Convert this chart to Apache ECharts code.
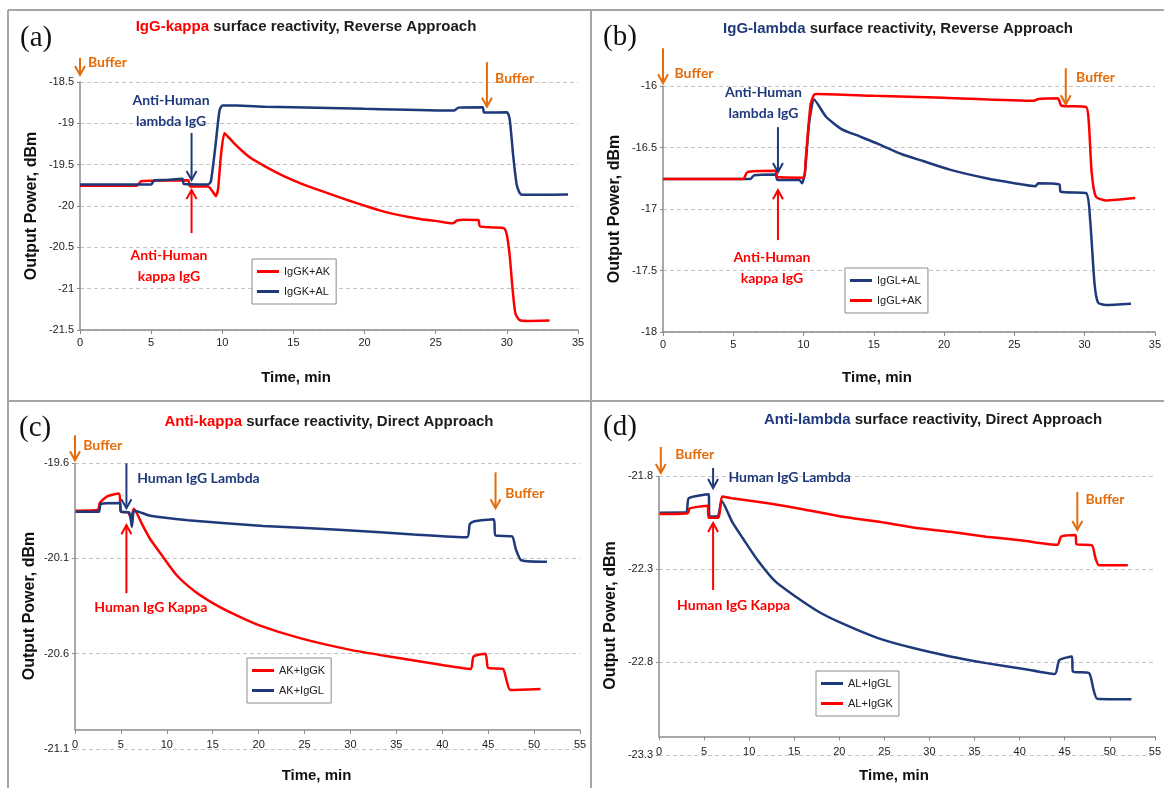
<!DOCTYPE html>
<html>
<head>
<meta charset="utf-8">
<title>Surface reactivity</title>
<script src="https://cdn.jsdelivr.net/npm/echarts@6.0.0/dist/echarts.min.js"></script>
<style>
html, body { margin: 0; padding: 0; background: #fff; }
#chart { width: 1164px; height: 788px; }
</style>
</head>
<body>
<div id="chart"></div>
<script>
// time (min), output power (dBm)
const aKappaAK = [[0,-19.755],[4.0,-19.755],[4.3,-19.70],[5,-19.695],[7.6,-19.69],[7.75,-19.765],[9.0,-19.765],[9.3,-19.82],[9.55,-19.88],[9.7,-19.80],[9.9,-19.40],[10.15,-19.12],[10.5,-19.18],[11.0,-19.27],[11.5,-19.35],[12.0,-19.42],[13,-19.52],[14,-19.61],[15,-19.69],[16,-19.76],[17,-19.82],[18,-19.88],[19,-19.94],[20,-19.995],[21,-20.05],[22,-20.095],[23,-20.13],[24,-20.16],[25,-20.18],[26.2,-20.21],[26.5,-20.175],[27,-20.165],[28,-20.17],[28.1,-20.245],[29,-20.26],[29.8,-20.27],[30.0,-20.35],[30.2,-20.6],[30.4,-21.0],[30.6,-21.3],[30.9,-21.38],[31.5,-21.39],[33,-21.385]];
const aKappaAL = [[0,-19.74],[5.0,-19.74],[5.2,-19.69],[6,-19.685],[7.2,-19.67],[7.3,-19.735],[9.0,-19.74],[9.2,-19.70],[9.5,-19.3],[9.8,-18.85],[10.0,-18.785],[11,-18.785],[13,-18.80],[15,-18.805],[20,-18.825],[26.3,-18.845],[26.6,-18.81],[28.3,-18.805],[28.4,-18.87],[30.0,-18.865],[30.2,-18.95],[30.45,-19.4],[30.7,-19.75],[31.0,-19.86],[32,-19.865],[34.3,-19.86]];

const bLambdaAL = [[0,-16.757],[6.2,-16.757],[6.5,-16.725],[8.0,-16.72],[8.15,-16.765],[9.7,-16.765],[9.9,-16.79],[10.1,-16.7],[10.4,-16.3],[10.75,-16.11],[11.6,-16.25],[12.7,-16.35],[14,-16.41],[15.3,-16.47],[17,-16.555],[18.5,-16.61],[20.4,-16.68],[23,-16.75],[25,-16.79],[26.5,-16.815],[26.7,-16.79],[28.2,-16.80],[28.3,-16.86],[30.1,-16.87],[30.4,-17.1],[30.7,-17.6],[30.95,-17.76],[31.5,-17.78],[33.3,-17.77]];
const bLambdaAK = [[0,-16.757],[5.7,-16.757],[6.0,-16.70],[8.0,-16.69],[8.15,-16.74],[10.0,-16.745],[10.15,-16.6],[10.5,-16.15],[10.75,-16.07],[11,-16.065],[15,-16.08],[20,-16.095],[26.4,-16.12],[26.7,-16.105],[28.1,-16.10],[28.35,-16.16],[30.1,-16.17],[30.3,-16.3],[30.5,-16.7],[30.8,-16.9],[31.5,-16.93],[33.6,-16.91]];

const cAKIgGK = [[0,-19.85],[2.5,-19.845],[2.7,-19.81],[3.5,-19.775],[4.8,-19.76],[5.0,-19.855],[5.8,-19.86],[6.1,-19.89],[6.4,-19.84],[7.4,-19.93],[8.2,-20.0],[9.4,-20.08],[11.1,-20.19],[13.1,-20.275],[15.2,-20.34],[17.2,-20.39],[20,-20.45],[24.6,-20.52],[30,-20.58],[34.9,-20.62],[40,-20.66],[43.1,-20.68],[43.4,-20.615],[44.7,-20.60],[45.0,-20.675],[46.6,-20.68],[47.0,-20.74],[47.4,-20.79],[50.7,-20.785]];
const cAKIgGL = [[0,-19.856],[2.6,-19.856],[2.8,-19.815],[4.9,-19.81],[5.0,-19.855],[5.9,-19.86],[6.2,-19.935],[6.35,-19.86],[6.5,-19.85],[8.2,-19.877],[12.3,-19.90],[20.5,-19.93],[28.7,-19.95],[36.9,-19.975],[42.7,-19.99],[43.0,-19.92],[43.5,-19.905],[45.6,-19.895],[45.8,-19.98],[47.6,-19.985],[48.0,-20.05],[48.6,-20.11],[51.4,-20.118]];

const dALIgGL = [[0,-21.997],[3,-21.995],[3.3,-21.92],[5.5,-21.898],[5.6,-22.018],[6.5,-22.018],[6.95,-21.934],[8.1,-22.045],[9.3,-22.135],[10.9,-22.25],[12.9,-22.367],[14.9,-22.44],[17.7,-22.53],[20.2,-22.59],[24.2,-22.67],[28.2,-22.725],[32.3,-22.77],[36.3,-22.806],[40.3,-22.836],[43.9,-22.865],[44.4,-22.79],[45.8,-22.77],[45.9,-22.85],[47.7,-22.86],[48.2,-22.95],[48.6,-22.997],[52.4,-23.0]];
const dALIgGK = [[0,-22.004],[3.2,-22.0],[3.4,-21.974],[5.4,-21.96],[5.5,-22.024],[6.6,-22.024],[7.0,-21.91],[8.1,-21.92],[12.1,-21.947],[16.1,-21.98],[20.2,-22.018],[24.2,-22.045],[28.2,-22.077],[32.3,-22.1],[36.3,-22.126],[40.3,-22.147],[44.2,-22.17],[44.6,-22.126],[46.2,-22.117],[46.3,-22.167],[48,-22.172],[48.4,-22.24],[48.8,-22.28],[52,-22.28]];

// annotations in data units: [panel, time, fromValue, toValue]
const bufferArrows = [[0,0,-18.21,-18.415],[0,28.6,-18.26,-18.80],[1,0,-15.694,-15.978],[1,28.66,-15.856,-16.149],[2,0,-19.455,-19.586],[2,45.8,-19.649,-19.837],[3,0.2,-21.644,-21.784],[3,46.4,-21.886,-22.09]];
const bufferLabels = [[0,0.56,-18.26],[0,29.17,-18.46],[1,0.82,-15.897],[1,29.39,-15.93],[2,0.89,-19.507],[2,46.87,-19.759],[3,1.8,-21.687],[3,47.3,-21.924]];
const lambdaArrows = [[0,7.84,-19.117,-19.685],[1,8.18,-16.335,-16.70],[2,5.6,-19.602,-19.837],[3,6.0,-21.757,-21.865]];
const kappaArrows = [[0,7.84,-20.327,-19.806],[1,8.18,-17.253,-16.847],[2,5.6,-20.283,-19.926],[3,6.0,-22.413,-22.053]];
const lambdaLabels = [[0,6.4,-18.85,'Anti-Human\nlambda IgG','center'],[1,7.15,-16.14,'Anti-Human\nlambda IgG','center'],[2,6.77,-19.679,'Human IgG Lambda','left'],[3,7.7,-21.809,'Human IgG Lambda','left']];
const kappaLabels = [[0,6.25,-20.72,'Anti-Human\nkappa IgG','center'],[1,7.75,-17.476,'Anti-Human\nkappa IgG','center'],[2,8.26,-20.356,'Human IgG Kappa','center'],[3,8.28,-22.497,'Human IgG Kappa','center']];

const RED = "#ff0000";
const NAVY = "#1f3a7a";
const ORANGE = "#e46c0a";
const AXIS = "#8c8c8c";

const panels = [
    {
        grid: {left: 80, top: 82, width: 498, height: 248},
        ymin: -21.5, ymax: -18.5, xmax: 35, cross: false,
        title: "{r|IgG-kappa} surface reactivity, Reverse Approach", titlePos: [306, 27],
        tag: "(a)", tagPos: [20, 38],
        legendPos: [252, 259], xNameGap: 40, xNameShift: 33, yNameGap: 40,
        series: [
            {name: "IgGK+AK", data: aKappaAK, color: RED},
            {name: "IgGK+AL", data: aKappaAL, color: NAVY}
        ]
    },
    {
        grid: {left: 663, top: 86, width: 499, height: 246},
        ymin: -18, ymax: -16, xmax: 35, cross: false,
        title: "{b|IgG-lambda} surface reactivity, Reverse Approach", titlePos: [898, 29],
        tag: "(b)", tagPos: [603, 37],
        legendPos: [845, 268], xNameGap: 38, xNameShift: 32, yNameGap: 40,
        series: [
            {name: "IgGL+AL", data: bLambdaAL, color: NAVY},
            {name: "IgGL+AK", data: bLambdaAK, color: RED}
        ]
    },
    {
        grid: {left: 75, top: 463, width: 505, height: 286},
        ymin: -21.1, ymax: -19.6, xmax: 55, cross: true,
        title: "{r|Anti-kappa} surface reactivity, Direct Approach", titlePos: [329, 422],
        tag: "(c)", tagPos: [19, 428],
        legendPos: [247, 658], xNameGap: 38, xNameShift: 11, yNameGap: 37,
        series: [
            {name: "AK+IgGK", data: cAKIgGK, color: RED},
            {name: "AK+IgGL", data: cAKIgGL, color: NAVY}
        ]
    },
    {
        grid: {left: 659, top: 476, width: 505, height: 279},
        ymin: -23.3, ymax: -21.8, xmax: 55, cross: true,
        title: "{b|Anti-lambda} surface reactivity, Direct Approach", titlePos: [933, 420],
        tag: "(d)", tagPos: [603, 427],
        legendPos: [816, 671], xNameGap: 32, xNameShift: 13, yNameGap: 40,
        series: [
            {name: "AL+IgGL", data: dALIgGL, color: NAVY},
            {name: "AL+IgGK", data: dALIgGK, color: RED}
        ]
    }
];

const chart = echarts.init(document.getElementById("chart"));

function buildOption() {
    const grids = [];
    const xAxes = [];
    const yAxes = [];
    const legends = [];
    const series = [];

    panels.forEach((p, i) => {
        grids.push(Object.assign({containLabel: false}, p.grid));

        // Excel-style: horizontal axis crosses 0.1 above the minimum in (c) and (d)
        const offset = p.cross ? -p.grid.height * 0.1 / (p.ymax - p.ymin) : 0;

        xAxes.push({
            type: "value", gridIndex: i, min: 0, max: p.xmax, interval: 5, offset: offset,
            name: "Time, min", nameLocation: "middle", nameGap: p.xNameGap,
            nameTextStyle: {fontWeight: "bold", fontSize: 15, color: "#111", fontFamily: "Arial", padding: [0, p.xNameShift * 2, 0, 0]},
            axisLine: {onZero: false, lineStyle: {color: AXIS, width: 1.5}},
            axisTick: {show: true, length: 4, lineStyle: {color: AXIS}},
            axisLabel: {color: "#222", fontSize: 11, fontFamily: "Arial", margin: p.cross ? 10 : 7},
            splitLine: {show: false}
        });

        yAxes.push({
            type: "value", gridIndex: i, min: p.ymin, max: p.ymax, interval: 0.5,
            name: "Output Power, dBm", nameLocation: "middle", nameGap: p.yNameGap,
            nameTextStyle: {fontWeight: "bold", fontSize: 16, color: "#111", fontFamily: "Arial"},
            axisLine: {show: !p.cross, onZero: false, lineStyle: {color: AXIS, width: 1.5}},
            axisTick: {show: true, length: 3, lineStyle: {color: AXIS}},
            axisLabel: {color: "#222", fontSize: 11, fontFamily: "Arial", margin: 6},
            splitLine: {show: true, lineStyle: {color: "#c4c4c4", type: [4, 3], width: 1}}
        });

        legends.push({
            data: p.series.map(s => s.name),
            orient: "vertical",
            left: p.legendPos[0], top: p.legendPos[1],
            icon: "rect", itemWidth: 22, itemHeight: 3, itemGap: 9,
            padding: [7, 6, 7, 5],
            borderColor: AXIS, borderWidth: 1, backgroundColor: "#fff",
            selectedMode: false,
            textStyle: {fontSize: 11, color: "#222", fontFamily: "Arial"}
        });

        p.series.forEach((s, k) => {
            const item = {
                type: "line", name: s.name, xAxisIndex: i, yAxisIndex: i,
                data: s.data, showSymbol: false, smooth: 0.2,
                color: s.color,
                lineStyle: {color: s.color, width: 2.5},
                animation: false
            };
            if (p.cross && k === 0) {
                item.markLine = {
                    silent: true, symbol: "none", animation: false,
                    label: {show: false},
                    lineStyle: {color: AXIS, width: 1.5, type: "solid"},
                    emphasis: {disabled: true},
                    data: [[{coord: [0, p.ymin + 0.1]}, {coord: [0, p.ymax]}]]
                };
            }
            series.push(item);
        });
    });

    return {
        backgroundColor: "#fff",
        animation: false,
        grid: grids,
        xAxis: xAxes,
        yAxis: yAxes,
        legend: legends,
        series: series
    };
}

function arrow(g, t, v1, v2, color) {
    const p1 = chart.convertToPixel({gridIndex: g}, [t, v1]);
    const p2 = chart.convertToPixel({gridIndex: g}, [t, v2]);
    const dir = p2[1] > p1[1] ? 1 : -1;
    return [
        {type: "line", z: 100, silent: true,
            shape: {x1: p1[0], y1: p1[1], x2: p2[0], y2: p2[1]},
            style: {stroke: color, lineWidth: 2}},
        {type: "polyline", z: 100, silent: true,
            shape: {points: [[p2[0] - 5, p2[1] - 9 * dir], [p2[0], p2[1]], [p2[0] + 5, p2[1] - 9 * dir]]},
            style: {stroke: color, lineWidth: 2, fill: null}}
    ];
}

function label(g, t, v, text, color, align) {
    const p = chart.convertToPixel({gridIndex: g}, [t, v]);
    return {
        type: "text", z: 100, silent: true, x: p[0], y: p[1],
        style: {text: text, fill: color, font: "bold 14px Lato, 'Liberation Sans', Arial",
            align: align, verticalAlign: "middle", lineHeight: 21}
    };
}

function buildGraphics() {
    const els = [];

    // panel frames
    const frame = {stroke: "#a6a6a6", lineWidth: 2};
    [[8, 10, 1164, 10], [8, 10, 8, 788], [591, 10, 591, 788], [8, 401, 1164, 401]].forEach(l => {
        els.push({type: "line", silent: true, shape: {x1: l[0], y1: l[1], x2: l[2], y2: l[3]}, style: frame});
    });

    panels.forEach(p => {
        els.push({
            type: "text", silent: true, x: p.titlePos[0], y: p.titlePos[1],
            style: {
                text: p.title, fill: "#1c1c1c",
                font: "bold 15px Arial, 'Liberation Sans'",
                align: "center", verticalAlign: "middle",
                rich: {
                    r: {fill: RED, color: RED, fontWeight: "bold", fontSize: 15, fontFamily: "Arial"},
                    b: {fill: NAVY, color: NAVY, fontWeight: "bold", fontSize: 15, fontFamily: "Arial"}
                }
            }
        });
        els.push({
            type: "text", silent: true, x: p.tagPos[0], y: p.tagPos[1],
            style: {text: p.tag, fill: "#111", font: "29px 'Liberation Serif', 'Times New Roman', serif",
                align: "left", verticalAlign: "middle"}
        });
    });

    bufferArrows.forEach(a => els.push(...arrow(a[0], a[1], a[2], a[3], ORANGE)));
    lambdaArrows.forEach(a => els.push(...arrow(a[0], a[1], a[2], a[3], NAVY)));
    kappaArrows.forEach(a => els.push(...arrow(a[0], a[1], a[2], a[3], RED)));
    bufferLabels.forEach(b => els.push(label(b[0], b[1], b[2], "Buffer", ORANGE, "left")));
    lambdaLabels.forEach(b => els.push(label(b[0], b[1], b[2], b[3], NAVY, b[4])));
    kappaLabels.forEach(b => els.push(label(b[0], b[1], b[2], b[3], RED, b[4])));

    return els;
}

chart.setOption(buildOption());
chart.setOption({graphic: buildGraphics()});
</script>
</body>
</html>
